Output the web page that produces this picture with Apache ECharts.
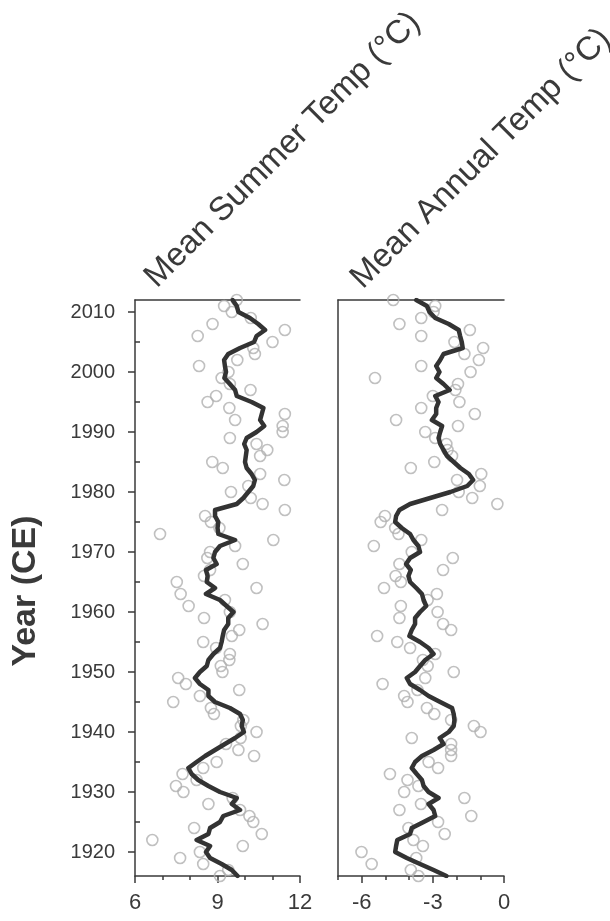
<!DOCTYPE html>
<html>
<head>
<meta charset="utf-8">
<script src="https://cdn.jsdelivr.net/npm/echarts@6.0.0/dist/echarts.min.js"></script>
<style>
  html, body { margin: 0; padding: 0; background: #fff; }
  #chart { width: 610px; height: 921px; }
</style>
</head>
<body>
<div id="chart"></div>
<script>
// Years of record, newest first
const years = [
  2012, 2011, 2010, 2009, 2008, 2007, 2006, 2005, 2004, 2003,
  2002, 2001, 2000, 1999, 1998, 1997, 1996, 1995, 1994, 1993,
  1992, 1991, 1990, 1989, 1988, 1987, 1986, 1985, 1984, 1983,
  1982, 1981, 1980, 1979, 1978, 1977, 1976, 1975, 1974, 1973,
  1972, 1971, 1970, 1969, 1968, 1967, 1966, 1965, 1964, 1963,
  1962, 1961, 1960, 1959, 1958, 1957, 1956, 1955, 1954, 1953,
  1952, 1951, 1950, 1949, 1948, 1947, 1946, 1945, 1944, 1943,
  1942, 1941, 1940, 1939, 1938, 1937, 1936, 1935, 1934, 1933,
  1932, 1931, 1930, 1929, 1928, 1927, 1926, 1925, 1924, 1923,
  1922, 1921, 1920, 1919, 1918, 1917, 1916
];

// Mean summer temperature (°C), yearly values
const summerTemp = [
  9.70, 9.24, 9.52, 10.21, 8.82, 11.45, 8.28, 11.00, 10.30, 10.36,
  9.72, 8.33, 9.40, 9.15, 9.45, 10.20, 8.95, 8.64, 9.43, 11.45,
  9.64, 11.37, 11.37, 9.45, 10.42, 10.81, 10.55, 8.81, 9.19, 10.55,
  11.43, 10.12, 9.49, 10.21, 10.64, 11.45, 8.55, 8.76, 9.07, 6.91,
  11.03, 9.64, 8.73, 8.63, 9.92, 8.73, 8.51, 7.52, 10.42, 7.66,
  9.27, 7.95, 9.45, 8.51, 10.64, 9.79, 9.52, 8.48, 8.95, 9.45,
  9.43, 9.12, 9.18, 7.57, 7.85, 9.79, 8.36, 7.39, 8.76, 8.87,
  9.94, 9.85, 10.42, 9.84, 9.31, 9.76, 10.33, 8.97, 8.48, 7.73,
  8.24, 7.49, 7.76, 9.55, 8.67, 9.82, 10.16, 10.30, 8.15, 10.61,
  6.63, 9.92, 8.36, 7.64, 8.48, 9.39, 9.09
];

// Smoothed summer temperature (°C)
const summerMean = [
  9.55, 9.70, 9.76, 10.18, 10.48, 10.73, 10.42, 10.33, 9.82, 9.39,
  9.24, 9.27, 9.31, 9.25, 9.45, 9.64, 9.70, 10.24, 10.67, 10.61,
  10.55, 10.70, 10.42, 10.06, 9.97, 10.06, 10.03, 10.00, 10.06, 10.24,
  10.36, 10.30, 10.12, 9.94, 9.70, 8.91, 8.91, 9.03, 9.00, 9.03,
  9.64, 9.09, 8.91, 8.85, 8.97, 8.58, 8.64, 8.61, 8.91, 8.58,
  9.09, 9.33, 9.58, 9.39, 9.39, 9.24, 9.19, 9.15, 9.09, 8.85,
  8.67, 8.61, 8.36, 8.18, 8.36, 8.67, 8.67, 8.91, 9.45, 9.82,
  9.92, 9.88, 9.96, 9.64, 9.27, 8.91, 8.55, 8.24, 7.94, 8.06,
  8.30, 8.67, 9.09, 9.70, 9.52, 9.82, 9.21, 9.09, 8.73, 8.67,
  8.24, 8.73, 8.58, 8.73, 9.15, 9.52, 9.73
];

// Mean annual temperature (°C), yearly values
const annualTemp = [
  -4.67, -2.90, -2.97, -3.49, -4.41, -1.44, -3.49, -2.09, -0.88, -1.67,
  -1.06, -3.49, -1.41, -5.44, -1.94, -2.05, -3.00, -1.88, -3.49, -1.23,
  -4.55, -1.94, -3.32, -2.90, -2.43, -2.38, -2.19, -2.94, -3.93, -0.96,
  -1.98, -1.02, -1.91, -1.34, -0.28, -2.61, -5.02, -5.20, -4.59, -4.45,
  -3.49, -5.49, -3.89, -2.16, -4.41, -2.57, -4.57, -4.35, -5.06, -2.83,
  -3.22, -4.35, -2.80, -4.41, -2.57, -2.23, -5.35, -4.50, -3.96, -2.90,
  -3.42, -3.22, -2.12, -3.32, -5.12, -3.65, -4.21, -4.07, -3.25, -2.94,
  -2.23, -1.27, -0.99, -3.89, -2.23, -2.23, -2.23, -3.18, -2.78, -4.81,
  -4.07, -3.61, -4.21, -1.67, -3.50, -4.41, -1.38, -2.78, -4.03, -2.50,
  -3.82, -3.42, -6.01, -3.70, -5.58, -3.93, -3.61
];

// Smoothed annual temperature (°C)
const annualMean = [
  -3.70, -3.25, -3.14, -2.90, -2.33, -1.91, -1.85, -1.78, -1.74, -2.55,
  -2.69, -2.86, -2.72, -2.86, -2.55, -2.29, -2.90, -2.76, -2.86, -2.86,
  -3.04, -2.61, -2.69, -2.76, -2.69, -2.55, -2.40, -2.12, -1.84, -1.48,
  -1.30, -1.55, -2.26, -3.11, -3.96, -4.41, -4.55, -4.59, -4.31, -3.96,
  -3.82, -3.61, -3.54, -3.96, -4.13, -3.93, -4.03, -3.96, -3.70, -3.46,
  -3.39, -3.28, -3.54, -3.75, -3.75, -3.89, -3.99, -3.54, -3.18, -2.97,
  -3.32, -3.54, -3.75, -4.10, -3.96, -3.54, -3.18, -2.69, -2.19, -2.12,
  -2.09, -2.12, -2.33, -2.71, -2.55, -2.97, -3.46, -3.75, -3.89, -3.68,
  -3.46, -3.39, -3.18, -2.76, -3.18, -2.97, -2.90, -3.39, -3.89, -3.96,
  -4.50, -4.55, -4.59, -4.10, -3.54, -2.97, -2.43
];

// Axis ticks and labels
const yearLabels = [1920, 1930, 1940, 1950, 1960, 1970, 1980, 1990, 2000, 2010];
const yearMinorTicks = [1925, 1935, 1945, 1955, 1965, 1975, 1985, 1995, 2005];
const summerLabels = [6, 9, 12];
const summerMinorTicks = [7, 8, 10, 11];
const annualLabels = [-6, -3, 0];
const annualMinorTicks = [-7, -5, -4, -2, -1];

const INK = '#3a3a3a';
const FONT = '"Liberation Sans", Arial, sans-serif';

const pairs = (xs) => xs.map((v, i) => [v, years[i]]);
const plain = (v) => String(v);

function bottomAxis(gridIndex, min, max, labels) {
  return {
    type: 'value', gridIndex, position: 'bottom', min, max,
    axisLine: { show: true, onZero: false, lineStyle: { color: INK, width: 1.5 } },
    axisTick: { show: true, customValues: labels, length: 7, lineStyle: { color: INK, width: 1.5 } },
    axisLabel: { show: true, customValues: labels, formatter: plain, color: INK, fontSize: 22, fontFamily: FONT, margin: 16 },
    splitLine: { show: false }
  };
}
function minorBottomAxis(gridIndex, min, max, ticks) {
  return {
    type: 'value', gridIndex, position: 'bottom', min, max,
    axisLine: { show: false, onZero: false },
    axisTick: { show: true, customValues: ticks, length: 4, lineStyle: { color: INK, width: 1.5 } },
    axisLabel: { show: false },
    splitLine: { show: false }
  };
}
function topFrame(gridIndex, min, max) {
  return {
    type: 'value', gridIndex, position: 'top', min, max,
    axisLine: { show: true, onZero: false, lineStyle: { color: INK, width: 1.5 } },
    axisTick: { show: false }, axisLabel: { show: false }, splitLine: { show: false }
  };
}

const chart = echarts.init(document.getElementById('chart'), null, { renderer: 'canvas' });

chart.setOption({
  animation: false,
  backgroundColor: '#ffffff',
  grid: [
    { left: 135, top: 300, width: 165, height: 576 },
    { left: 338, top: 300, width: 166, height: 576 }
  ],
  xAxis: [
    bottomAxis(0, 6, 12, summerLabels),
    minorBottomAxis(0, 6, 12, summerMinorTicks),
    topFrame(0, 6, 12),
    bottomAxis(1, -7, 0, annualLabels),
    minorBottomAxis(1, -7, 0, annualMinorTicks),
    topFrame(1, -7, 0)
  ],
  yAxis: [
    {
      type: 'value', gridIndex: 0, position: 'left', min: 1916, max: 2012,
      axisLine: { show: true, onZero: false, lineStyle: { color: INK, width: 1.5 } },
      axisTick: { show: true, customValues: yearLabels, length: 7, lineStyle: { color: INK, width: 1.5 } },
      axisLabel: { show: true, customValues: yearLabels, formatter: plain, color: INK, fontSize: 20, fontFamily: FONT, margin: 20 },
      splitLine: { show: false }
    },
    {
      type: 'value', gridIndex: 0, position: 'left', min: 1916, max: 2012,
      axisLine: { show: false, onZero: false },
      axisTick: { show: true, inside: true, customValues: yearMinorTicks, length: 5, lineStyle: { color: INK, width: 1.5 } },
      axisLabel: { show: false },
      splitLine: { show: false }
    },
    {
      type: 'value', gridIndex: 1, position: 'left', min: 1916, max: 2012,
      axisLine: { show: true, onZero: false, lineStyle: { color: INK, width: 1.5 } },
      axisTick: { show: false }, axisLabel: { show: false }, splitLine: { show: false }
    }
  ],
  series: [
    {
      name: 'Mean Summer Temp', type: 'scatter', xAxisIndex: 0, yAxisIndex: 0,
      data: pairs(summerTemp), symbol: 'circle', symbolSize: 11, z: 2,
      itemStyle: { color: 'rgba(255,255,255,0)', borderColor: '#b0b0b0', borderWidth: 1.6 }
    },
    {
      name: 'Mean Summer Temp smoothed', type: 'line', xAxisIndex: 0, yAxisIndex: 0,
      data: pairs(summerMean), showSymbol: false, symbol: 'none', z: 3,
      lineStyle: { color: '#333333', width: 4.5, join: 'round', cap: 'round' }
    },
    {
      name: 'Mean Annual Temp', type: 'scatter', xAxisIndex: 3, yAxisIndex: 2,
      data: pairs(annualTemp), symbol: 'circle', symbolSize: 11, z: 2,
      itemStyle: { color: 'rgba(255,255,255,0)', borderColor: '#b0b0b0', borderWidth: 1.6 }
    },
    {
      name: 'Mean Annual Temp smoothed', type: 'line', xAxisIndex: 3, yAxisIndex: 2,
      data: pairs(annualMean), showSymbol: false, symbol: 'none', z: 3,
      lineStyle: { color: '#333333', width: 4.5, join: 'round', cap: 'round' }
    }
  ],
  graphic: [
    {
      type: 'text', x: 162, y: 294, rotation: Math.PI / 4,
      style: { text: 'Mean Summer Temp (°C)', fill: INK, font: '33px ' + FONT, align: 'left', verticalAlign: 'bottom' }
    },
    {
      type: 'text', x: 368, y: 295, rotation: Math.PI / 4,
      style: { text: 'Mean Annual Temp (°C)', fill: INK, font: '33px ' + FONT, align: 'left', verticalAlign: 'bottom' }
    },
    {
      type: 'text', x: 26, y: 591, rotation: Math.PI / 2,
      style: { text: 'Year (CE)', fill: INK, font: 'bold 34px ' + FONT, align: 'center', verticalAlign: 'middle' }
    }
  ]
});
</script>
</body>
</html>
